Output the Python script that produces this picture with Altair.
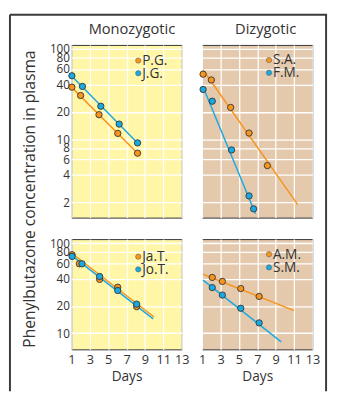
import altair as alt
import pandas as pd

FONT = "Open Sans"
TEXT = "#333333"
FRAME = "#3a3a3a"
ORANGE = "#F7941D"
BLUE = "#1AA9E1"
YELLOW = "#FFF6A8"
TAN = "#E4C9AD"

day_ticks = [1, 3, 5, 7, 9, 11, 13]
top_ticks = [2, 4, 6, 8, 10, 20, 40, 60, 80, 100]
bottom_ticks = [10, 20, 40, 60, 80, 100]
top_domain = [1.35, 111]
bottom_domain = [6.6, 111]

# Monozygotic, upper panel
pg_days = [1.05, 2.0, 4.0, 6.05, 8.2]
pg_conc = [37.8, 30.5, 18.7, 11.6, 7.0]
jg_days = [1.05, 2.2, 4.2, 6.2, 8.2]
jg_conc = [50.5, 38.5, 23.2, 14.7, 9.1]
pg_fit_days = [1.0, 8.2]
pg_fit_conc = [37.8, 7.0]
jg_fit_days = [1.0, 8.2]
jg_fit_conc = [50.5, 9.1]

# Dizygotic, upper panel
sa_days = [1.1, 2.0, 4.1, 6.1, 8.1]
sa_conc = [52.6, 45.4, 22.5, 11.7, 5.1]
fm_days = [1.1, 2.1, 4.2, 6.1, 6.6]
fm_conc = [35.6, 26.4, 7.6, 2.35, 1.69]
sa_fit_days = [1.1, 11.4]
sa_fit_conc = [58.6, 1.88]
fm_fit_days = [1.1, 6.8]
fm_fit_conc = [37.9, 1.49]

# Monozygotic, lower panel
jat_days = [1.07, 1.86, 4.07, 6.04, 8.1]
jat_conc = [74.4, 59.0, 39.6, 32.4, 19.7]
jot_days = [1.07, 2.15, 4.07, 6.04, 8.1]
jot_conc = [71.3, 59.0, 42.6, 29.8, 21.0]
jat_fit_days = [1.0, 10.0]
jat_fit_conc = [77.7, 15.1]
jot_fit_days = [1.0, 9.9]
jot_fit_conc = [73.1, 14.4]

# Dizygotic, lower panel
am_days = [2.1, 3.2, 5.2, 7.2]
am_conc = [41.6, 37.6, 31.3, 25.6]
sm_days = [2.1, 3.2, 5.2, 7.2]
sm_conc = [32.1, 26.5, 18.9, 13.0]
am_fit_days = [1.1, 11.0]
am_fit_conc = [45.2, 17.8]
sm_fit_days = [1.1, 9.6]
sm_fit_conc = [38.9, 8.0]

deco = pd.DataFrame({"k": [0]})


def frame(names, days, concs):
    rows = []
    for n, d, c in zip(names, days, concs):
        for x, y in zip(d, c):
            rows.append({"who": n, "day": x, "conc": y})
    return pd.DataFrame(rows)


def legend_layers(names, ys):
    out = []
    for name, col, yy in zip(names, [ORANGE, BLUE], ys):
        out.append(alt.Chart(deco).mark_point(
            filled=True, size=30, color=col, stroke="#555555", strokeWidth=0.5,
            opacity=1).encode(x=alt.value(68.5), y=alt.value(yy)))
        out.append(alt.Chart(deco).mark_text(
            text=name, fontSize=14, font=FONT, color=TEXT, align="left",
            baseline="middle").encode(x=alt.value(72.5), y=alt.value(yy + 0.5)))
    return out


def panel(names, pdays, pconc, fdays, fconc, domain, yticks, bg,
          ylabels, xlabels, height, legend_y, extra=None):
    pts = frame(names, pdays, pconc)
    fits = frame(names, fdays, fconc)
    xs = alt.Scale(domain=[1, 13], nice=False, zero=False)
    ys = alt.Scale(type="log", domain=domain, nice=False)
    cs = alt.Scale(domain=names, range=[ORANGE, BLUE])
    xaxis_kw = dict(values=day_ticks, grid=True, gridColor="white", gridWidth=1.3,
                    ticks=False, domain=False, labels=xlabels, labelFlush=False,
                    labelPadding=5, labelFontSize=13, labelColor=TEXT, labelFont=FONT)
    if xlabels:
        xaxis_kw.update(title="Days", titleFontSize=14, titleFont=FONT,
                        titleColor=TEXT, titleFontWeight="normal", titlePadding=3)
    else:
        xaxis_kw.update(title=None)
    yaxis = alt.Axis(values=yticks, grid=True, gridColor="white", gridWidth=1.3,
                     ticks=False, domain=False, labels=ylabels, labelOverlap=False,
                     labelPadding=2, labelFontSize=12, labelColor=TEXT, labelFont=FONT,
                     title=None, format="d")
    x = alt.X("day:Q", scale=xs, axis=alt.Axis(**xaxis_kw))
    y = alt.Y("conc:Q", scale=ys, axis=yaxis)
    lines = alt.Chart(fits).mark_line(strokeWidth=1.5).encode(
        x=x, y=y, stroke=alt.Stroke("who:N", scale=cs, legend=None))
    points = alt.Chart(pts).mark_point(
        filled=True, size=42, stroke="#333333", strokeWidth=0.9, opacity=1
    ).encode(x=x, y=y, fill=alt.Fill("who:N", scale=cs, legend=None))
    layers = [lines, points] + legend_layers(names, legend_y)
    if extra is not None:
        layers.extend(extra)
    return alt.layer(*layers).properties(
        width=113, height=height,
        view=alt.ViewBackground(fill=bg, stroke="#333333", strokeWidth=1))


def col_title(text, cx):
    return alt.Chart(deco).mark_text(
        text=text, fontSize=15, font=FONT, color=TEXT, align="center",
        baseline="alphabetic").encode(x=alt.value(cx), y=alt.value(-11))


left_rule = alt.Chart(deco).mark_rule(color=FRAME, strokeWidth=2).encode(
    x=alt.value(-63), y=alt.value(-31), y2=alt.value(355))
top_rule = alt.Chart(deco).mark_rule(color=FRAME, strokeWidth=2).encode(
    x=alt.value(-63), x2=alt.value(262), y=alt.value(-31))
right_rule = alt.Chart(deco).mark_rule(color=FRAME, strokeWidth=2).encode(
    x=alt.value(127), y=alt.value(-31), y2=alt.value(355))
ytitle = alt.Chart(deco).mark_text(
    text="Phenylbutazone concentration in plasma", angle=270, fontSize=16,
    font=FONT, color=TEXT, align="center", baseline="middle"
).encode(x=alt.value(-42), y=alt.value(158))

tl = panel(["P.G.", "J.G."], [pg_days, jg_days], [pg_conc, jg_conc],
           [pg_fit_days, jg_fit_days], [pg_fit_conc, jg_fit_conc],
           top_domain, top_ticks, YELLOW, True, False, 177, [16, 29],
           extra=[left_rule, top_rule, ytitle, col_title("Monozygotic", 62)])
tr = panel(["S.A.", "F.M."], [sa_days, fm_days], [sa_conc, fm_conc],
           [sa_fit_days, fm_fit_days], [sa_fit_conc, fm_fit_conc],
           top_domain, top_ticks, TAN, False, False, 177, [15.5, 28.5],
           extra=[right_rule, col_title("Dizygotic", 65)])
bl = panel(["Ja.T.", "Jo.T."], [jat_days, jot_days], [jat_conc, jot_conc],
           [jat_fit_days, jot_fit_days], [jat_fit_conc, jot_fit_conc],
           bottom_domain, bottom_ticks, YELLOW, True, True, 113, [18, 31])
br = panel(["A.M.", "S.M."], [am_days, sm_days], [am_conc, sm_conc],
           [am_fit_days, sm_fit_days], [am_fit_conc, sm_fit_conc],
           bottom_domain, bottom_ticks, TAN, False, True, 113, [15.5, 29])

chart = alt.concat(
    tl, tr, bl, br, columns=2, bounds="flush",
    spacing=alt.RowColnumber(row=22, column=21)
).resolve_scale(fill="independent", stroke="independent", x="independent",
                y="independent").properties(padding=0, background="white")

chart.save("out.html", embed_options={"renderer": "svg", "actions": False})
